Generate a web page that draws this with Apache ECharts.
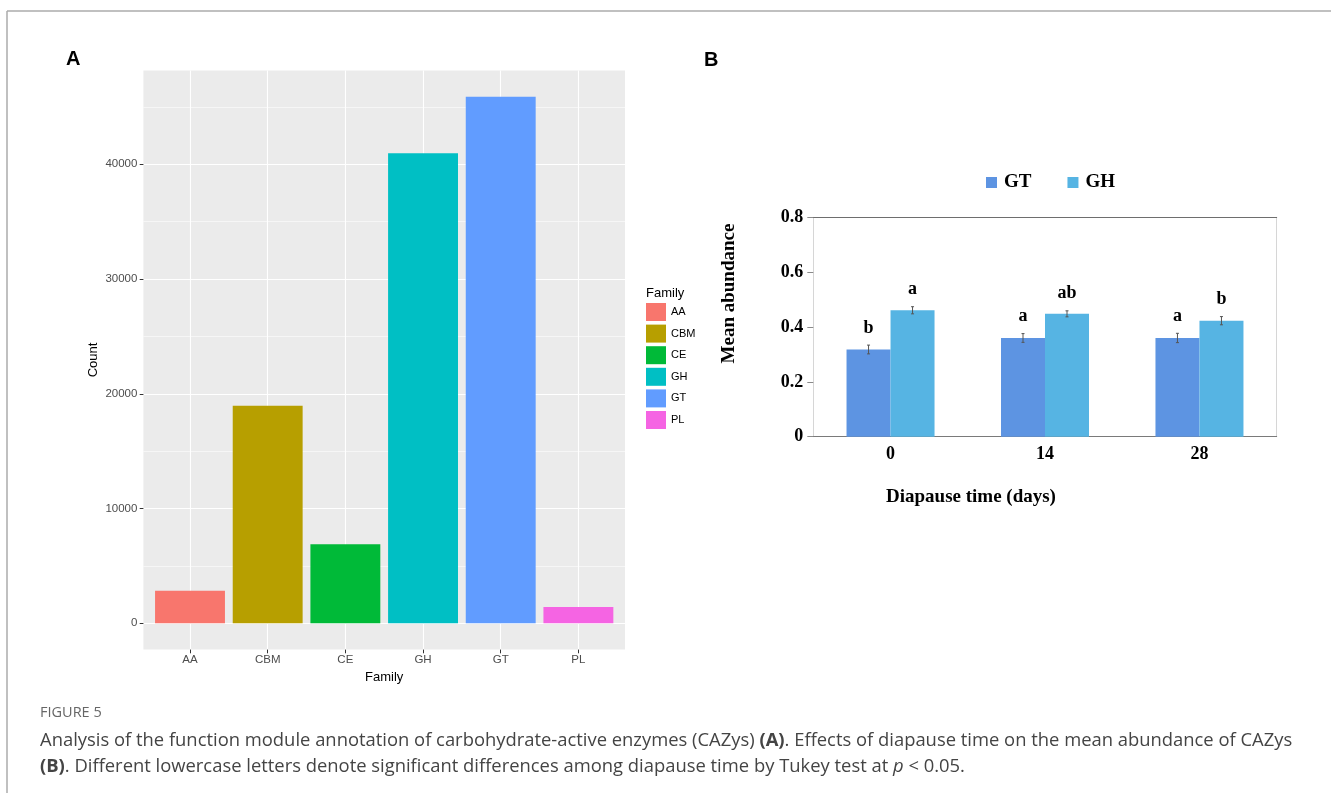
<!DOCTYPE html>
<html><head><meta charset="utf-8">
<script src="https://cdn.jsdelivr.net/npm/echarts@6/dist/echarts.min.js"></script>
<style>html,body{margin:0;padding:0;background:#fff}#c{width:1331px;height:793px}</style>
</head><body><div id="c"></div>
<script>
// ---------- Panel A data ----------
const families = ['AA', 'CBM', 'CE', 'GH', 'GT', 'PL'];
const familyCounts = [2840, 18960, 6880, 40960, 45890, 1420];
const familyColors = ['#F8766D', '#B79F00', '#00BA38', '#00BFC4', '#619CFF', '#F564E3'];
const countTicks = [0, 10000, 20000, 30000, 40000];
const countMinorTicks = [5000, 15000, 25000, 35000, 45000];

// ---------- Panel B data ----------
const days = ['0', '14', '28'];
const gtMean = [0.318, 0.360, 0.360];
const gtErr = [0.016, 0.016, 0.017];
const ghMean = [0.461, 0.448, 0.423];
const ghErr = [0.013, 0.011, 0.015];
const gtLetters = ['b', 'a', 'a'];
const ghLetters = ['a', 'ab', 'b'];
const abundanceTicks = [0, 0.2, 0.4, 0.6, 0.8];

// ---------- layout ----------
const A = { left: 143.4, top: 70.4, width: 481.6, height: 579.2 };
const B = { left: 813.3, top: 217.3, width: 463.4, height: 219.4 };
const aUnit = A.width / (families.length - 1 + 1.2);
const aBarWidth = 0.9 * aUnit;
const bBarWidth = 44;
const sans = '"Liberation Sans", Arial, sans-serif';
const serif = '"Liberation Serif", "Times New Roman", serif';
const capFont = '"Open Sans", sans-serif';
const capSize = 18.4;

const yMax = Math.max(...familyCounts);
const yPad = yMax * 0.05;
const famIdx = families.map((f, i) => i);

function errRender(offset, letters) {
  return function (params, api) {
    const i = api.value(0), m = api.value(1), e = api.value(2);
    const c = api.coord([i, m]);
    const x = c[0] + offset;
    const yt = api.coord([i, m + e])[1];
    const yb = api.coord([i, m - e])[1];
    const st = { stroke: '#555', lineWidth: 1 };
    return {
      type: 'group', children: [
        { type: 'line', shape: { x1: x, y1: yt, x2: x, y2: yb }, style: st },
        { type: 'line', shape: { x1: x - 1.5, y1: yt, x2: x + 1.5, y2: yt }, style: st },
        { type: 'line', shape: { x1: x - 1.5, y1: yb, x2: x + 1.5, y2: yb }, style: st },
        { type: 'text', x: x, y: yt - 8, style: { text: letters[params.dataIndex], fill: '#000',
          fontFamily: serif, fontWeight: 'bold', fontSize: 18, align: 'center', verticalAlign: 'bottom' } }
      ]
    };
  };
}

const seriesA = families.map((f, i) => ({
  type: 'bar', name: f, xAxisIndex: 0, yAxisIndex: 0,
  data: [[i, familyCounts[i]]], barWidth: aBarWidth, barGap: '-100%',
  itemStyle: { color: familyColors[i] }
}));

const option = {
  animation: false,
  textStyle: { fontFamily: sans },
  title: [
    { text: 'A', left: 66, top: 49, padding: 0, textStyle: { fontSize: 20, fontWeight: 'bold', fontFamily: sans, color: '#000' } },
    { text: 'B', left: 704, top: 50, padding: 0, textStyle: { fontSize: 20, fontWeight: 'bold', fontFamily: sans, color: '#000' } },
    { text: 'Family', left: 646, top: 287, padding: 0, textStyle: { fontSize: 13, fontWeight: 'normal', fontFamily: sans, color: '#000' } },
    { text: 'Diapause time (days)', left: 886, top: 488, padding: 0, textStyle: { fontSize: 19, fontWeight: 'bold', fontFamily: serif, color: '#000' } }
  ],
  legend: [
    { data: families, orient: 'vertical', left: 646, top: 303, padding: 0,
      itemWidth: 20, itemHeight: 18, itemGap: 3.6, icon: 'rect', selectedMode: false,
      textStyle: { fontSize: 11, color: '#000', fontFamily: sans } },
    { data: ['B-GT', 'B-GH'], orient: 'horizontal', left: 986, top: 173, padding: 0,
      itemWidth: 11, itemHeight: 11, itemGap: 36, icon: 'rect', selectedMode: false,
      formatter: n => n.replace('B-', ''),
      textStyle: { fontSize: 19, color: '#000', fontFamily: serif, fontWeight: 'bold', padding: [0, 0, 0, 2] } }
  ],
  grid: [
    { left: A.left, top: A.top, width: A.width, height: A.height, show: true, backgroundColor: '#EBEBEB', borderWidth: 0 },
    { left: B.left, top: B.top, width: B.width, height: B.height, show: false }
  ],
  xAxis: [
    { gridIndex: 0, type: 'value', min: -0.6, max: families.length - 1 + 0.6,
      axisLine: { show: false, onZero: false },
      axisTick: { show: true, customValues: famIdx, length: 3.7, lineStyle: { color: '#333', width: 1 } },
      axisLabel: { customValues: famIdx, formatter: v => families[v], color: '#4D4D4D', fontSize: 11.5, margin: 4, fontFamily: sans },
      splitLine: { show: true, lineStyle: { color: '#fff', width: 1.1 } },
      name: 'Family', nameLocation: 'middle', nameGap: 20,
      nameTextStyle: { color: '#000', fontSize: 13, fontFamily: sans } },
    { gridIndex: 1, type: 'category', data: days, position: 'bottom',
      axisLine: { show: true, onZero: false, lineStyle: { color: '#7a7a7a', width: 1 } },
      axisTick: { show: false },
      axisLabel: { color: '#000', fontSize: 18, fontWeight: 'bold', fontFamily: serif, margin: 9 },
      splitLine: { show: false } },
    { gridIndex: 1, type: 'category', data: days, position: 'top',
      axisLine: { show: true, onZero: false, lineStyle: { color: '#6e6e6e', width: 1 } },
      axisTick: { show: false }, axisLabel: { show: false }, splitLine: { show: false } }
  ],
  yAxis: [
    { gridIndex: 0, type: 'value', min: -yPad, max: yMax + yPad,
      axisLine: { show: false, onZero: false },
      axisTick: { show: true, customValues: countTicks, length: 3.7, lineStyle: { color: '#333', width: 1 } },
      axisLabel: { customValues: countTicks, formatter: v => String(v), color: '#4D4D4D', fontSize: 11.5, margin: 6, fontFamily: sans },
      splitLine: { show: true, lineStyle: { color: '#fff', width: 1.1 } },
      name: 'Count', nameLocation: 'middle', nameGap: 43, nameRotate: 90,
      nameTextStyle: { color: '#000', fontSize: 13, fontFamily: sans } },
    { gridIndex: 0, type: 'value', min: -yPad, max: yMax + yPad,
      axisLine: { show: false, onZero: false },
      axisTick: { show: false, customValues: countMinorTicks },
      axisLabel: { show: false, customValues: countMinorTicks },
      splitLine: { show: true, lineStyle: { color: '#fff', width: 0.55 } } },
    { gridIndex: 1, type: 'value', min: abundanceTicks[0], max: abundanceTicks[abundanceTicks.length - 1], interval: 0.2,
      axisLine: { show: true, onZero: false, lineStyle: { color: '#d6d6d6', width: 1 } },
      axisTick: { show: true, length: 6, lineStyle: { color: '#8a8a8a', width: 1 } },
      axisLabel: { formatter: v => (v === 0 ? '0' : v.toFixed(1)), color: '#000', fontSize: 18, fontWeight: 'bold', fontFamily: serif, margin: 10 },
      splitLine: { show: false } },
    { gridIndex: 1, type: 'value', position: 'right', min: 0, max: 0.8,
      axisLine: { show: true, onZero: false, lineStyle: { color: '#d6d6d6', width: 1 } },
      axisTick: { show: false }, axisLabel: { show: false }, splitLine: { show: false } }
  ],
  series: [
    ...seriesA,
    { type: 'bar', name: 'B-GT', xAxisIndex: 1, yAxisIndex: 2, data: gtMean, barWidth: bBarWidth, barGap: '0%',
      itemStyle: { color: '#5D94E2' } },
    { type: 'bar', name: 'B-GH', xAxisIndex: 1, yAxisIndex: 2, data: ghMean, barWidth: bBarWidth, barGap: '0%',
      itemStyle: { color: '#56B4E3' } },
    { type: 'custom', xAxisIndex: 1, yAxisIndex: 2, z: 5, renderItem: errRender(-bBarWidth / 2, gtLetters),
      data: gtMean.map((m, i) => [i, m, gtErr[i]]) },
    { type: 'custom', xAxisIndex: 1, yAxisIndex: 2, z: 5, renderItem: errRender(bBarWidth / 2, ghLetters),
      data: ghMean.map((m, i) => [i, m, ghErr[i]]) }
  ],
  graphic: [
    { type: 'line', silent: true, shape: { x1: 7, y1: 11, x2: 1331, y2: 11 }, style: { stroke: '#ababab', lineWidth: 1.5 } },
    { type: 'line', silent: true, shape: { x1: 7, y1: 11, x2: 7, y2: 793 }, style: { stroke: '#ababab', lineWidth: 1.5 } },
    { type: 'text', silent: true, x: 729, y: 293.5, rotation: Math.PI / 2,
      style: { text: 'Mean abundance', fill: '#000', fontSize: 19, fontWeight: 'bold', fontFamily: serif, align: 'center', verticalAlign: 'middle' } },
    { type: 'text', left: 40, top: 705, silent: true,
      style: { text: 'FIGURE 5', fill: '#666', fontSize: 14.5, fontFamily: capFont } },
    { type: 'text', left: 40, top: 732, silent: true,
      style: { text: 'Analysis of the function module annotation of carbohydrate-active enzymes (CAZys) {b|(A)}. Effects of diapause time on the mean abundance of CAZys',
        fill: '#444', fontSize: capSize, fontFamily: capFont,
        rich: { b: { fontWeight: 'bold', fontSize: capSize, fontFamily: capFont, fill: '#444' } } } },
    { type: 'text', left: 40, top: 758, silent: true,
      style: { text: '{b|(B)}. Different lowercase letters denote significant differences among diapause time by Tukey test at {i|p} < 0.05.',
        fill: '#444', fontSize: capSize, fontFamily: capFont,
        rich: { b: { fontWeight: 'bold', fontSize: capSize, fontFamily: capFont, fill: '#444' },
                i: { fontStyle: 'italic', fontSize: capSize, fontFamily: capFont, fill: '#444' } } } }
  ]
};

const chart = echarts.init(document.getElementById('c'), null, { renderer: 'canvas' });
chart.setOption(option);
</script>
</body></html>
